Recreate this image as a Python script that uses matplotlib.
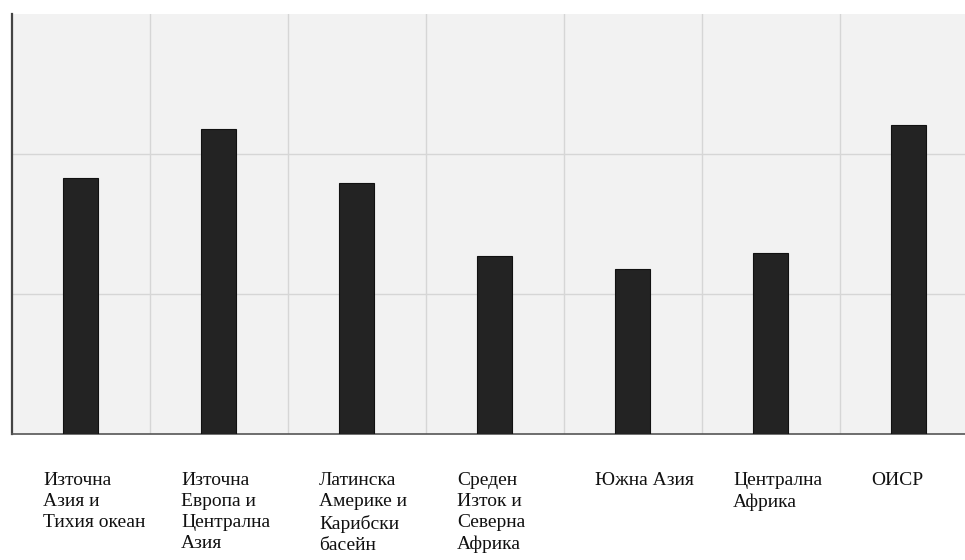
import matplotlib
matplotlib.use("Agg")
import matplotlib.pyplot as plt
import matplotlib.transforms as mtransforms
import numpy as np

categories = [
    "Източна\nАзия и\nТихия океан",
    "Източна\nЕвропа и\nЦентрална\nАзия",
    "Латинска\nАмерике и\nКарибски\nбасейн",
    "Среден\nИзток и\nСеверна\nАфрика",
    "Южна Азия",
    "Централна\nАфрика",
    "ОИСР",
]
values = [1.83, 2.18, 1.79, 1.27, 1.18, 1.29, 2.21]

fig = plt.figure(figsize=(9.65, 5.6), dpi=100)
fig.patch.set_facecolor("white")
ax = fig.add_axes([11.5/965, 126/560, 966/965, 420/560])
ax.set_facecolor("#f2f2f2")

x = np.arange(len(categories))
ax.bar(x, values, width=0.26, color="#232323", edgecolor="#111111", linewidth=0.8, zorder=3)

ax.set_xlim(-0.5, len(categories) - 0.5)
ax.set_ylim(0, 3)
ax.set_yticks([1, 2])
ax.set_xticks(np.arange(len(categories) - 1) + 0.5)
ax.grid(True, color="#d6d6d6", linewidth=1.0, zorder=0)
ax.tick_params(left=False, bottom=False, labelleft=False, labelbottom=False)
for s in ["top", "right"]:
    ax.spines[s].set_visible(False)
ax.spines["left"].set_color("#444444")
ax.spines["left"].set_linewidth(1.6)
ax.spines["bottom"].set_color("#555555")
ax.spines["bottom"].set_linewidth(1.2)

trans = mtransforms.blended_transform_factory(ax.transData, fig.transFigure)
for i, lab in enumerate(categories):
    ax.text(i - 0.5 + 0.228, 1 - 472/560, lab, transform=trans, ha="left", va="top",
            fontsize=14.0, family="Liberation Serif", linespacing=1.32, color="#111111",
            clip_on=False)

fig.savefig("out.png", dpi=100)
